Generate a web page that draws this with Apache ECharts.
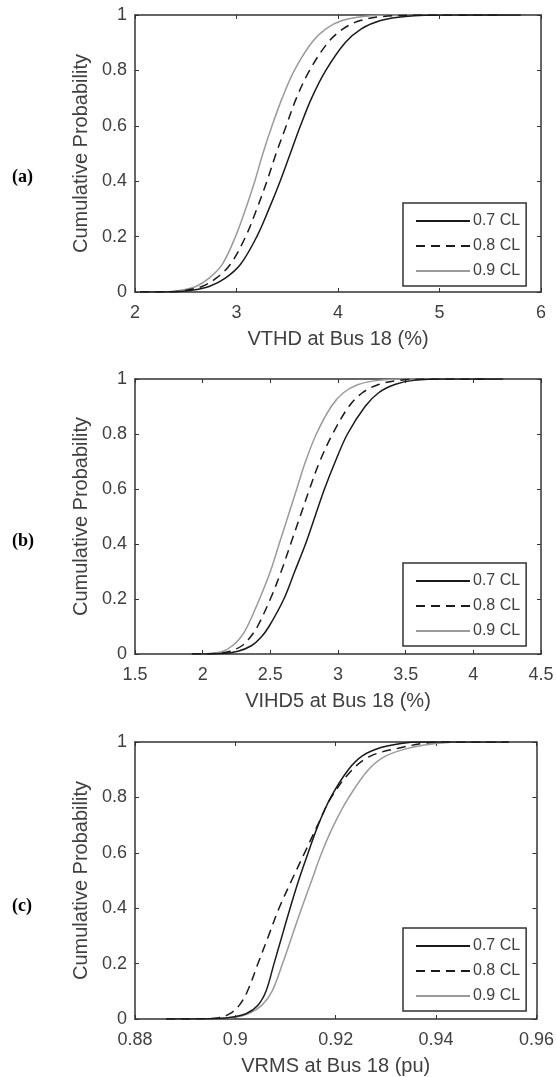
<!DOCTYPE html>
<html>
<head>
<meta charset="utf-8">
<script src="https://cdn.jsdelivr.net/npm/echarts@6/dist/echarts.min.js"></script>
<style>
  html, body { margin: 0; background: #fff; }
  #chart { width: 557px; height: 1077px; }
</style>
</head>
<body>
<div id="chart"></div>
<script>
const seriesNames = ['0.7 CL', '0.8 CL', '0.9 CL'];
const panelLabels = ['(a)', '(b)', '(c)'];
const xTitles = ['VTHD at Bus 18 (%)', 'VIHD5 at Bus 18 (%)', 'VRMS at Bus 18 (pu)'];
const yTitle = 'Cumulative Probability';
// [min, max, interval]
const xRanges = [[2, 6, 1], [1.5, 4.5, 0.5], [0.88, 0.96, 0.02]];

// (a) VTHD
const vthd07 = [[2.05,0],[2.4,0.001],[2.54,0.005],[2.73,0.02],[2.89,0.05],[3.04,0.1],[3.2,0.2],[3.32,0.3],[3.43,0.4],[3.53,0.5],[3.63,0.6],[3.74,0.7],[3.88,0.8],[4.07,0.9],[4.23,0.95],[4.42,0.98],[4.66,0.995],[5.1,1],[5.8,1]];
const vthd08 = [[2.05,0],[2.35,0.001],[2.48,0.005],[2.66,0.02],[2.8,0.05],[2.94,0.1],[3.09,0.2],[3.2,0.3],[3.3,0.4],[3.39,0.5],[3.49,0.6],[3.59,0.7],[3.72,0.8],[3.9,0.9],[4.05,0.95],[4.22,0.98],[4.45,0.995],[4.9,1],[5.6,1]];
const vthd09 = [[2.05,0],[2.3,0.001],[2.43,0.005],[2.6,0.02],[2.73,0.05],[2.86,0.1],[2.99,0.2],[3.09,0.3],[3.18,0.4],[3.26,0.5],[3.35,0.6],[3.45,0.7],[3.57,0.8],[3.74,0.9],[3.88,0.95],[4.04,0.98],[4.25,0.995],[4.6,1],[5.2,1]];

// (b) VIHD5
const vihd07 = [[1.92,0],[2.14,0.002],[2.26,0.01],[2.36,0.03],[2.43,0.06],[2.49,0.1],[2.6,0.2],[2.68,0.3],[2.76,0.4],[2.83,0.5],[2.9,0.6],[2.98,0.7],[3.07,0.8],[3.2,0.9],[3.3,0.95],[3.42,0.98],[3.56,0.995],[3.8,1],[4.22,1]];
const vihd08 = [[1.92,0],[2.1,0.002],[2.2,0.01],[2.29,0.03],[2.35,0.06],[2.405,0.1],[2.5,0.2],[2.58,0.3],[2.65,0.4],[2.72,0.5],[2.79,0.6],[2.865,0.7],[2.96,0.8],[3.08,0.9],[3.18,0.95],[3.3,0.98],[3.45,0.995],[3.7,1],[4.1,1]];
const vihd09 = [[1.92,0],[2.05,0.002],[2.15,0.01],[2.22,0.03],[2.28,0.06],[2.33,0.1],[2.42,0.2],[2.5,0.3],[2.565,0.4],[2.63,0.5],[2.695,0.6],[2.76,0.7],[2.84,0.8],[2.95,0.9],[3.04,0.95],[3.15,0.98],[3.3,0.995],[3.5,1],[4.0,1]];

// (c) VRMS
const vrms07 = [[0.8862,0],[0.895,0.001],[0.8988,0.005],[0.9022,0.02],[0.9045,0.05],[0.9061,0.1],[0.9077,0.2],[0.9093,0.3],[0.9109,0.4],[0.9126,0.5],[0.9145,0.6],[0.9165,0.7],[0.919,0.8],[0.9225,0.9],[0.9253,0.95],[0.929,0.98],[0.933,0.995],[0.937,1],[0.9545,1]];
const vrms08 = [[0.8862,0],[0.894,0.001],[0.8967,0.005],[0.899,0.02],[0.9008,0.05],[0.9024,0.1],[0.9045,0.2],[0.9066,0.3],[0.9087,0.4],[0.9112,0.5],[0.9138,0.6],[0.9164,0.7],[0.9191,0.8],[0.9233,0.9],[0.927,0.95],[0.9331,0.98],[0.9375,0.995],[0.941,1],[0.9545,1]];
const vrms09 = [[0.8862,0],[0.895,0.001],[0.8995,0.005],[0.9027,0.02],[0.9053,0.05],[0.9073,0.1],[0.9094,0.2],[0.9113,0.3],[0.9132,0.4],[0.9152,0.5],[0.9172,0.6],[0.9196,0.7],[0.9226,0.8],[0.9265,0.9],[0.93,0.95],[0.935,0.98],[0.94,0.995],[0.946,1],[0.9545,1]];

const panelData = [
  [vthd07, vthd08, vthd09],
  [vihd07, vihd08, vihd09],
  [vrms07, vrms08, vrms09],
];

// layout
const gridTops = [15, 379, 742];
const gridHeights = [277, 275, 277];
const legendTops = [203, 563, 928];
const labelTops = [163, 527, 892];

const font = 'Liberation Sans, Arial, Helvetica, sans-serif';
const axisColor = '#333';
const textColor = '#404040';
const lineStyles = [
  { color: '#1a1a1a', width: 1.5, type: 'solid' },
  { color: '#1a1a1a', width: 1.5, type: [9, 6] },
  { color: '#9a9a9a', width: 1.5, type: 'solid' },
];

const grid = [];
const xAxis = [];
const yAxis = [];
const legend = [];
const title = [];
const series = [];

for (let p = 0; p < 3; p++) {
  const [xmin, xmax, xint] = xRanges[p];
  grid.push({ left: 135, width: 406, top: gridTops[p], height: gridHeights[p], show: false });

  const baseAxis = {
    gridIndex: p,
    axisLine: { show: true, onZero: false, lineStyle: { color: axisColor, width: 1.5 } },
    axisTick: { show: true, inside: true, length: 4, lineStyle: { color: axisColor, width: 1 } },
    splitLine: { show: false },
  };

  // bottom axis with labels
  xAxis.push({
    ...baseAxis,
    type: 'value', position: 'bottom',
    min: xmin, max: xmax, interval: xint,
    name: xTitles[p], nameLocation: 'middle', nameGap: 37,
    nameTextStyle: { fontFamily: font, fontSize: 20, color: textColor },
    axisLabel: { fontFamily: font, fontSize: 18, color: textColor, margin: 12 },
  });
  // top axis, ticks only
  xAxis.push({
    ...baseAxis,
    type: 'value', position: 'top',
    min: xmin, max: xmax, interval: xint,
    axisLabel: { show: false },
  });
  yAxis.push({
    ...baseAxis,
    type: 'value', position: 'left',
    min: 0, max: 1, interval: 0.2,
    name: yTitle, nameLocation: 'middle', nameGap: 39,
    nameTextStyle: { fontFamily: font, fontSize: 20, color: textColor },
    axisLabel: { fontFamily: font, fontSize: 18, color: textColor, margin: 8 },
  });
  yAxis.push({
    ...baseAxis,
    type: 'value', position: 'right',
    min: 0, max: 1, interval: 0.2,
    axisLabel: { show: false },
  });

  legend.push({
    orient: 'vertical',
    left: 403, top: legendTops[p],
    data: seriesNames,
    itemWidth: 54, itemHeight: 14, itemGap: 9,
    padding: [10, 6, 7, 12],
    borderColor: axisColor, borderWidth: 1.5, borderRadius: 0,
    backgroundColor: '#fff',
    itemStyle: { color: 'transparent', borderWidth: 0 },
    textStyle: { fontFamily: font, fontSize: 16, color: textColor, padding: [0, 0, 0, -2] },
    selectedMode: false,
  });

  title.push({
    text: panelLabels[p],
    left: 7, top: labelTops[p],
    textStyle: { fontFamily: 'Liberation Serif, Times New Roman, serif', fontWeight: 'bold', fontSize: 18, color: '#000' },
  });

  panelData[p].forEach((d, i) => {
    series.push({
      name: seriesNames[i],
      type: 'line',
      xAxisIndex: p * 2,
      yAxisIndex: p * 2,
      data: d,
      symbol: 'none',
      smooth: 0.35,
      lineStyle: lineStyles[i],
      itemStyle: { color: lineStyles[i].color },
      z: 3 - i,
      silent: true,
    });
  });
}

const chart = echarts.init(document.getElementById('chart'));
chart.setOption({
  backgroundColor: '#fff',
  animation: false,
  title,
  grid,
  xAxis,
  yAxis,
  legend,
  series,
});
</script>
</body>
</html>
